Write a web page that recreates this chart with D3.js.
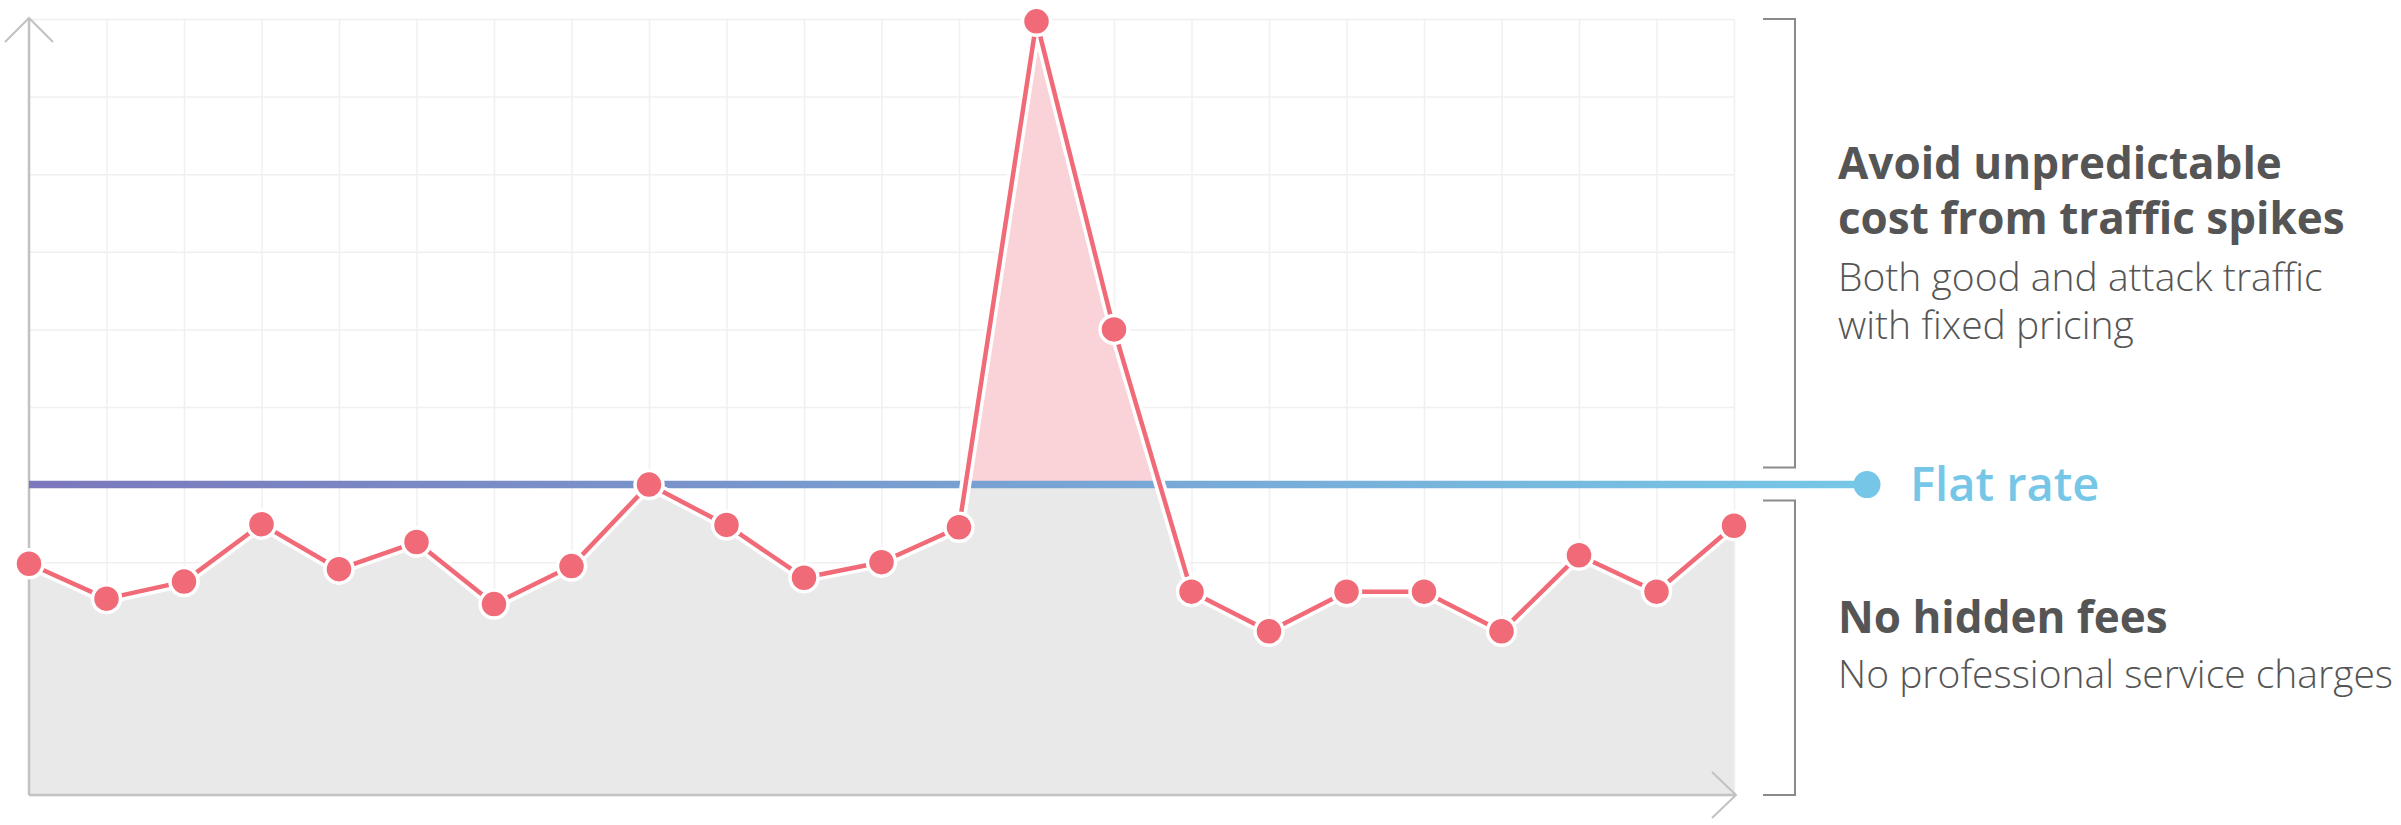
<!DOCTYPE html>
<html>
<head>
<meta charset="utf-8">
<script src="https://cdn.jsdelivr.net/npm/d3@7"></script>
<style>
  html, body { margin: 0; padding: 0; background: #ffffff; }
  svg { display: block; }
  text { font-family: "Open Sans", "Noto Sans", sans-serif; }
</style>
</head>
<body>
<svg id="chart" width="2401" height="825"></svg>
<script>
// ---- data ----
const periods = d3.range(23);            // 23 evenly spaced time periods
const traffic = [2.98, 2.53, 2.75, 3.49, 2.91, 3.26, 2.46, 2.95, 4.0, 3.48, 2.80, 3.0,
                 3.45, 9.97, 6.0, 2.62, 2.11, 2.62, 2.62, 2.11, 3.09, 2.62, 3.47];
const flatRate = 4;
const yDomain = [0, 10];
const flatLabel = "Flat rate";
const upperTitle = ["Avoid unpredictable", "cost from traffic spikes"];
const upperSub = ["Both good and attack traffic", "with fixed pricing"];
const lowerTitle = ["No hidden fees"];
const lowerSub = ["No professional service charges"];

// ---- layout ----
const svg = d3.select("#chart");
const pLeft = 29, pRight = 1734, pTop = 19, pBottom = 795;
const x = d3.scaleLinear().domain([0, periods.length - 1]).range([pLeft, pRight]);
const y = d3.scaleLinear().domain(yDomain).range([pBottom, pTop]);

const defs = svg.append("defs");
const grad = defs.append("linearGradient").attr("id", "flatGrad")
  .attr("gradientUnits", "userSpaceOnUse")
  .attr("x1", pLeft).attr("x2", pRight + 133).attr("y1", 0).attr("y2", 0);
grad.append("stop").attr("offset", "0%").attr("stop-color", "#7b78bb");
grad.append("stop").attr("offset", "100%").attr("stop-color", "#76c7e7");

defs.append("clipPath").attr("id", "below")
  .append("rect").attr("x", 0).attr("y", y(flatRate)).attr("width", 2401).attr("height", 825);
defs.append("clipPath").attr("id", "above")
  .append("rect").attr("x", 0).attr("y", 0).attr("width", 2401).attr("height", y(flatRate));

// ---- grid via axes ----
const gx = svg.append("g").attr("transform", `translate(0,${pBottom})`)
  .call(d3.axisBottom(x).tickValues(periods).tickSize(-(pBottom - pTop)).tickFormat(""));
const gy = svg.append("g").attr("transform", `translate(${pLeft},0)`)
  .call(d3.axisLeft(y).ticks(10).tickSize(-(pRight - pLeft)).tickFormat(""));
[gx, gy].forEach(g => {
  g.select(".domain").remove();
  g.selectAll(".tick line").attr("stroke", "#f0f0f0").attr("stroke-width", 1.5);
});

// ---- fills ----
const area = d3.area().x((d, i) => x(i)).y0(y(0)).y1(d => y(d));
svg.append("path").datum(traffic).attr("d", area)
  .attr("fill", "#e9e9e9").attr("clip-path", "url(#below)");
svg.append("path").datum(traffic).attr("d", area)
  .attr("fill", "#f9d3d8").attr("clip-path", "url(#above)");

// ---- axes arrows ----
const axisCol = "#c2c2c2";
svg.append("line").attr("x1", pLeft).attr("x2", pLeft).attr("y1", pTop - 1).attr("y2", pBottom)
  .attr("stroke", axisCol).attr("stroke-width", 2.5);
svg.append("line").attr("x1", pLeft).attr("x2", pRight + 2).attr("y1", pBottom).attr("y2", pBottom)
  .attr("stroke", axisCol).attr("stroke-width", 2.5);
svg.append("polyline").attr("points", `${pLeft - 24},${pTop + 23} ${pLeft},${pTop - 1} ${pLeft + 24},${pTop + 23}`)
  .attr("fill", "none").attr("stroke", axisCol).attr("stroke-width", 2);
svg.append("polyline").attr("points", `${pRight - 22},${pBottom - 23} ${pRight + 2},${pBottom} ${pRight - 22},${pBottom + 23}`)
  .attr("fill", "none").attr("stroke", axisCol).attr("stroke-width", 2);

// ---- flat rate line ----
const flatEnd = pRight + 133;
svg.append("line").attr("x1", pLeft).attr("x2", flatEnd).attr("y1", y(flatRate)).attr("y2", y(flatRate))
  .attr("stroke", "url(#flatGrad)").attr("stroke-width", 7.5);
svg.append("circle").attr("cx", flatEnd).attr("cy", y(flatRate)).attr("r", 13.5).attr("fill", "#76c7e7");
svg.append("text").attr("x", flatEnd + 43).attr("y", y(flatRate) + 16)
  .attr("font-size", 47).attr("font-weight", 600).attr("fill", "#76c7e7").text(flatLabel);

// ---- traffic line ----
const line = d3.line().x((d, i) => x(i)).y(d => y(d));
svg.append("path").datum(traffic).attr("d", line)
  .attr("fill", "none").attr("stroke", "#ffffff").attr("stroke-width", 11.5).attr("stroke-linejoin", "round");
svg.append("path").datum(traffic).attr("d", line)
  .attr("fill", "none").attr("stroke", "#f06b77").attr("stroke-width", 4.5).attr("stroke-linejoin", "round");
svg.selectAll("circle.pt").data(traffic).join("circle").attr("class", "pt")
  .attr("cx", (d, i) => x(i)).attr("cy", d => y(d)).attr("r", 14)
  .attr("fill", "#f06b77").attr("stroke", "#ffffff").attr("stroke-width", 3.5);

// ---- brackets ----
const bx0 = 1763, bx1 = 1795;
const bracket = (y0, y1) => svg.append("polyline")
  .attr("points", `${bx0},${y0} ${bx1},${y0} ${bx1},${y1} ${bx0},${y1}`)
  .attr("fill", "none").attr("stroke", "#8a8a8a").attr("stroke-width", 2);
bracket(y(yDomain[1]), y(flatRate) - 17);
bracket(y(flatRate) + 16, y(0));

// ---- annotation text ----
const tx = 1838;
const addLines = (lines, y0, lh, size, weight) => lines.forEach((t, i) =>
  svg.append("text").attr("x", tx).attr("y", y0 + i * lh)
    .attr("font-size", size).attr("font-weight", weight).attr("fill", "#555555").text(t));
addLines(upperTitle, 179, 55, 44, 700);
addLines(upperSub, 291, 48, 39, 300);
addLines(lowerTitle, 633, 55, 44, 700);
addLines(lowerSub, 688, 48, 39, 300);
</script>
</body>
</html>
